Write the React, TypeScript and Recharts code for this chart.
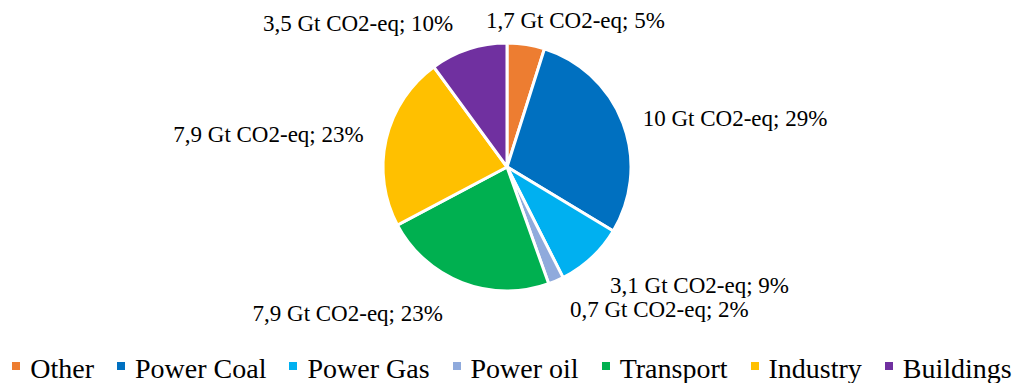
import React from "react";
import { PieChart, Pie, Cell, Legend } from "recharts";

// emission sources, clockwise from 12 o'clock
const sectors = ["Other", "Power Coal", "Power Gas", "Power oil", "Transport", "Industry", "Buildings"];
const emissions = [1.7, 10, 3.1, 0.7, 7.9, 7.9, 3.5]; // Gt CO2-eq
const colors = ["#ED7D31", "#0070C0", "#00B0F0", "#8FAADC", "#00B050", "#FFC000", "#7030A0"];

// small nudges so labels sit where the original's "best fit" put them
const labelNudge: Record<string, [number, number]> = {
  Other: [-43, -4],
  "Power Coal": [1, 2],
  "Power Gas": [5, 13],
  "Power oil": [6, 10],
  Transport: [-12, 12],
  Industry: [-3, 0],
  Buildings: [-9, -7],
};

const data = sectors.map((name, i) => ({ name, value: emissions[i] }));

const FONT = "'Liberation Serif', 'Times New Roman', serif";
const RAD = Math.PI / 180;

const renderLabel = (props: any) => {
  const { cx, cy, midAngle, outerRadius, value, percent, name } = props;
  const r = outerRadius + 20;
  const x0 = cx + r * Math.cos(-midAngle * RAD);
  const y0 = cy + r * Math.sin(-midAngle * RAD);
  const [dx, dy] = labelNudge[name] || [0, 0];
  const txt = `${String(value).replace(".", ",")} Gt CO2-eq; ${Math.round(percent * 100)}%`;
  return (
    <text
      x={x0 + dx}
      y={y0 + dy}
      textAnchor={x0 > cx ? "start" : "end"}
      dominantBaseline="central"
      fill="#000"
      fontSize={23}
      fontFamily={FONT}
    >
      {txt}
    </text>
  );
};

const renderLegend = (props: any) => {
  // keep the data order, not the alphabetical one
  const payload = [...(props.payload || [])].sort(
    (a: any, b: any) => sectors.indexOf(a.value) - sectors.indexOf(b.value)
  );
  return (
    <div
      style={{
        display: "flex",
        justifyContent: "center",
        alignItems: "center",
        gap: 23,
        paddingLeft: 6,
        fontFamily: FONT,
        fontSize: 28,
        lineHeight: "28px",
        color: "#000",
        whiteSpace: "nowrap",
      }}
    >
      {payload.map((entry: any) => (
        <div key={entry.value} style={{ display: "flex", alignItems: "center" }}>
          <span
            style={{
              display: "inline-block",
              width: 8,
              height: 8,
              marginRight: 10,
              position: "relative",
              top: -3,
              backgroundColor: entry.color,
            }}
          />
          <span>{entry.value}</span>
        </div>
      ))}
    </div>
  );
};

export default function App() {
  return (
    <div style={{ position: "absolute", left: 0, top: 0, width: 1018, height: 383, background: "#fff" }}>
      <PieChart width={1018} height={383} margin={{ top: 0, right: 0, bottom: 0, left: 0 }}>
        <Pie
          data={data}
          dataKey="value"
          nameKey="name"
          cx={507}
          cy={167}
          outerRadius={124}
          startAngle={90}
          endAngle={-270}
          stroke="#fff"
          strokeWidth={3}
          label={renderLabel}
          labelLine={false}
          isAnimationActive={false}
        >
          {data.map((d, i) => (
            <Cell key={d.name} fill={colors[i]} />
          ))}
        </Pie>
        <Legend
          content={renderLegend}
          wrapperStyle={{ position: "absolute", top: 355, left: 0, width: 1018 }}
        />
      </PieChart>
    </div>
  );
}
